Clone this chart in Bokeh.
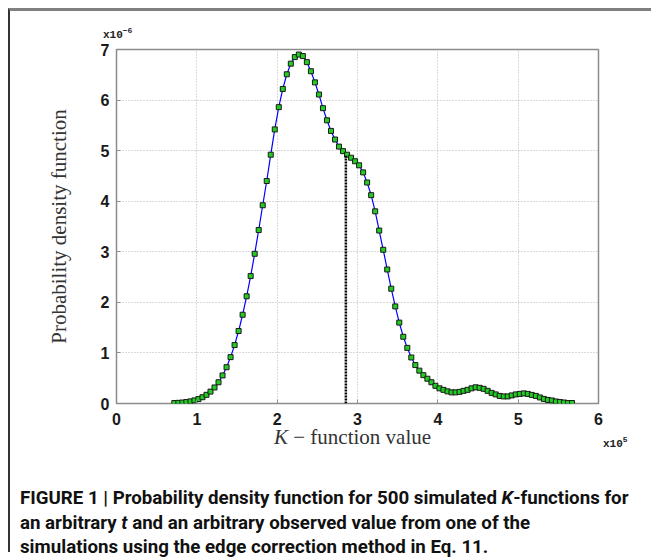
from bokeh.plotting import figure
from bokeh.models import Div, FixedTicker, Range1d
from bokeh.layouts import column
from bokeh.embed import file_html
from bokeh.resources import INLINE

# ---- data (x in units of 1e5, density in units of 1e-6) ----
k_values = [0.72, 0.77, 0.82, 0.87, 0.92, 0.97, 1.02, 1.07, 1.12, 1.17,
            1.22, 1.27, 1.32, 1.37, 1.42, 1.47, 1.52, 1.57, 1.62, 1.67,
            1.72, 1.77, 1.82, 1.87, 1.92, 1.97, 2.02, 2.07, 2.12, 2.17,
            2.22, 2.27, 2.32, 2.37, 2.42, 2.47, 2.52, 2.57, 2.62, 2.67,
            2.72, 2.77, 2.82, 2.87, 2.92, 2.97, 3.02, 3.07, 3.12, 3.17,
            3.22, 3.27, 3.32, 3.37, 3.42, 3.47, 3.52, 3.57, 3.62, 3.67,
            3.72, 3.77, 3.82, 3.87, 3.92, 3.97, 4.02, 4.07, 4.12, 4.17,
            4.22, 4.27, 4.32, 4.37, 4.42, 4.47, 4.52, 4.57, 4.62, 4.67,
            4.72, 4.77, 4.82, 4.87, 4.92, 4.97, 5.02, 5.07, 5.12, 5.17,
            5.22, 5.27, 5.32, 5.37, 5.42, 5.47, 5.52, 5.57, 5.62, 5.67]
density = [0.01, 0.013, 0.019, 0.029, 0.042, 0.061, 0.088, 0.124, 0.172, 0.235,
           0.317, 0.42, 0.555, 0.718, 0.917, 1.155, 1.433, 1.755, 2.12, 2.52,
           2.96, 3.43, 3.92, 4.40, 4.92, 5.42, 5.86, 6.22, 6.51, 6.72,
           6.85, 6.90, 6.87, 6.75, 6.57, 6.35, 6.11, 5.84, 5.60, 5.39,
           5.22, 5.08, 4.99, 4.92, 4.86, 4.79, 4.71, 4.57, 4.37, 4.12,
           3.80, 3.42, 3.04, 2.65, 2.27, 1.92, 1.60, 1.32, 1.10, 0.91,
           0.76, 0.65, 0.56, 0.49, 0.42, 0.35, 0.30, 0.27, 0.24, 0.22,
           0.22, 0.23, 0.25, 0.27, 0.30, 0.32, 0.31, 0.29, 0.25, 0.21,
           0.18, 0.15, 0.14, 0.14, 0.16, 0.18, 0.19, 0.20, 0.19, 0.17,
           0.15, 0.12, 0.09, 0.07, 0.06, 0.04, 0.03, 0.02, 0.01, 0.01]
observed_value = 2.855
observed_density = 4.90
x_ticks = [0, 1, 2, 3, 4, 5, 6]
y_ticks = [0, 1, 2, 3, 4, 5, 6, 7]

serif = "Liberation Serif"
W = 641
TOP_H, FIG_H, BOT_H = 30, 392, 119

p = figure(width=W, height=FIG_H, output_backend="svg", toolbar_location=None,
           x_range=Range1d(0, 6), y_range=Range1d(0, 7),
           min_border_left=106, min_border_right=53,
           min_border_top=8, min_border_bottom=30)
p.background_fill_color = "white"
p.border_fill_color = "white"
p.outline_line_color = "#8c8c8c"
p.outline_line_width = 1.5

for ax in (p.xaxis, p.yaxis):
    ax.axis_line_color = None
    ax.major_tick_in = 4
    ax.major_tick_out = 0
    ax.major_tick_line_color = "#8c8c8c"
    ax.minor_tick_line_color = None
    ax.major_label_text_font = "Liberation Sans"
    ax.major_label_text_font_style = "bold"
    ax.major_label_text_font_size = "16px"
    ax.major_label_text_color = "#1a1a1a"
p.xaxis.ticker = FixedTicker(ticks=x_ticks)
p.yaxis.ticker = FixedTicker(ticks=y_ticks)
p.xaxis.major_label_standoff = 9
p.yaxis.major_label_standoff = 7

p.yaxis.axis_label = "Probability density function"
p.yaxis.axis_label_text_font = serif
p.yaxis.axis_label_text_font_style = "normal"
p.yaxis.axis_label_text_font_size = "21px"
p.yaxis.axis_label_text_color = "#333333"
p.yaxis.axis_label_standoff = 27

for g in (p.xgrid, p.ygrid):
    g.grid_line_color = "#b4b4b4"
    g.grid_line_dash = "1 2"
    g.grid_line_width = 1

p.line(k_values, density, line_color="#0000ff", line_width=1.2)
p.scatter(k_values, density, marker="square", size=5,
          fill_color="#22cc22", line_color="#1a1a1a", line_width=1)
p.segment(x0=[observed_value], y0=[0], x1=[observed_value], y1=[observed_density],
          line_color="black", line_width=2.5, line_dash="2 1")

mono = "font-family:'Liberation Mono',monospace;font-weight:bold;font-size:11px;color:#222;"
top_div = Div(
    text=(f'<div style="position:relative;width:{W}px;height:{TOP_H}px;">'
          f'<span style="position:absolute;left:93px;top:13px;line-height:14px;white-space:nowrap;{mono}">'
          'x10<sup style="font-size:8px;">\u22126</sup></span></div>'),
    width=W, height=TOP_H, margin=0, styles={"overflow": "visible"})

serif_css = f"font-family:'{serif}',serif;font-size:21px;color:#333;line-height:21px;"
caption_css = ("font-family:Roboto,sans-serif;font-weight:bold;font-size:18.7px;"
               "line-height:24.5px;color:#111;white-space:nowrap;")
bottom_div = Div(
    text=(f'<div style="position:relative;width:{W}px;height:{BOT_H}px;">'
          f'<span style="position:absolute;left:264px;top:-6px;white-space:nowrap;{serif_css}">'
          '<i>K</i> \u2212 function value</span>'
          f'<span style="position:absolute;left:593px;top:0px;line-height:14px;white-space:nowrap;{mono}">'
          'x10<sup style="font-size:8px;">5</sup></span>'
          f'<div style="position:absolute;left:10px;top:53px;{caption_css}">'
          'FIGURE 1 | Probability density function for 500 simulated <i>K</i>-functions for<br>'
          'an arbitrary <i>t</i> and an arbitrary observed value from one of the<br>'
          'simulations using the edge correction method in Eq. 11.</div></div>'),
    width=W, height=BOT_H, margin=0, styles={"overflow": "visible"})

layout = column(top_div, p, bottom_div, spacing=0,
                styles={"border-top": "3px solid #808080", "border-left": "2px solid #333333",
                        "background-color": "white", "margin-left": "8px", "margin-top": "8px"})

open("out.html", "w").write(file_html(layout, INLINE))
